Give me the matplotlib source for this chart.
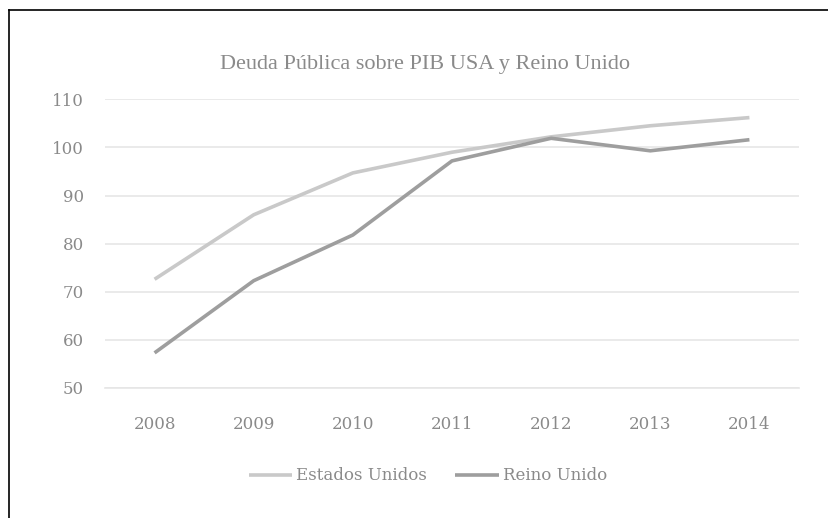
import matplotlib.pyplot as plt
from matplotlib.lines import Line2D

# Deuda pública (% del PIB)
years = ["2008", "2009", "2010", "2011", "2012", "2013", "2014"]
usa = [72.6, 86.0, 94.7, 99.0, 102.2, 104.5, 106.2]
uk = [57.3, 72.3, 81.8, 97.2, 101.9, 99.3, 101.6]

y_ticks = [50, 60, 70, 80, 90, 100, 110]

text_color = "#8a8a8a"
grid_color = "#e6e6e6"
usa_color = "#c9c9c9"
uk_color = "#9e9e9e"

plt.rcParams["font.family"] = ["DejaVu Serif"]

fig = plt.figure(figsize=(8.29, 5.18), dpi=100)
ax = fig.add_axes([105 / 829, 1 - 388 / 518, 694 / 829, (388 - 99.3) / 518])

x = list(range(len(years)))
ax.plot(x, usa, color=usa_color, linewidth=2.6, solid_capstyle="butt",
        label="Estados Unidos", zorder=3)
ax.plot(x, uk, color=uk_color, linewidth=2.6, solid_capstyle="butt",
        label="Reino Unido", zorder=4)

ax.set_xlim(-0.5, len(years) - 0.5)
ax.set_ylim(50, 110)
ax.set_xticks(x)
ax.set_xticklabels(years)
ax.set_yticks(y_ticks)
ax.tick_params(axis="both", length=0, labelsize=12, colors=text_color)
ax.tick_params(axis="x", pad=20)
ax.tick_params(axis="y", pad=15)
ax.grid(axis="y", color=grid_color, linewidth=1.2)
ax.set_axisbelow(True)
for side in ["top", "right", "left"]:
    ax.spines[side].set_visible(False)
ax.spines["bottom"].set_color(grid_color)
ax.spines["bottom"].set_linewidth(1.2)

fig.text(425 / 829, 1 - 65 / 518, "Deuda Pública sobre PIB USA y Reino Unido",
         ha="center", va="center", fontsize=16, color=text_color,
         family="Liberation Serif")

leg = fig.legend(loc="center", bbox_to_anchor=(428 / 829, 1 - 476 / 518),
                 ncol=2, frameon=False, fontsize=12, handlelength=2.6,
                 handletextpad=0.25, columnspacing=1.7, labelcolor=text_color)

# marco negro arriba y a la izquierda
fig.add_artist(Line2D([9 / 829, 9 / 829], [0, 1 - 10 / 518], color="black", linewidth=1.2))
fig.add_artist(Line2D([9 / 829, 1], [1 - 10 / 518, 1 - 10 / 518], color="black", linewidth=1.2))

fig.savefig("out.png", dpi=100, facecolor="white")
